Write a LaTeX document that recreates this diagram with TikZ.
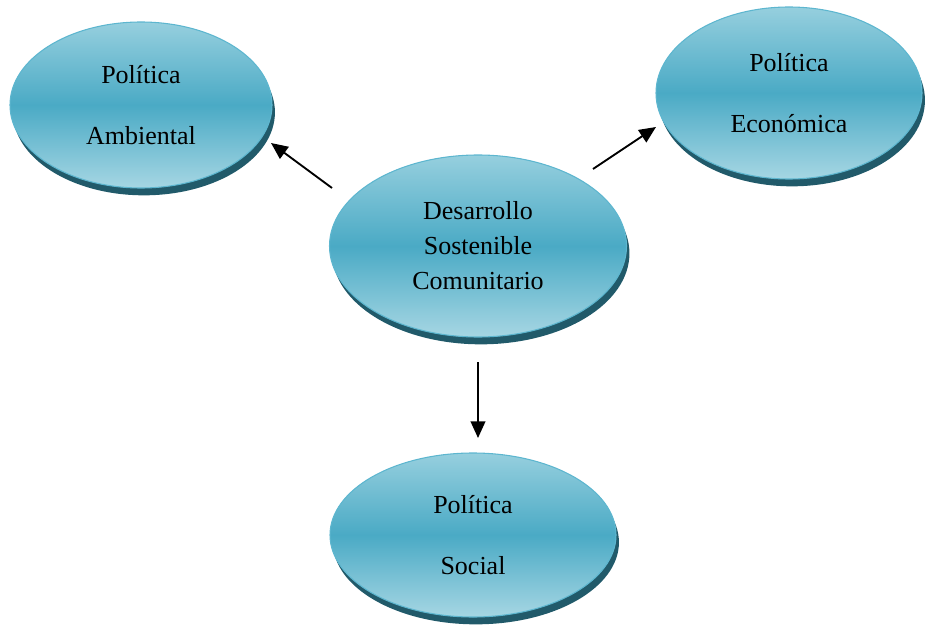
\documentclass[tikz,border=0pt]{standalone}
\usepackage{fontspec}
\setmainfont{Liberation Serif}
\usetikzlibrary{shapes.geometric,shadows,arrows.meta}

\definecolor{bubblelight}{HTML}{96CFDE}
\definecolor{bubblemid}{HTML}{4AAAC5}
\definecolor{bubbleline}{HTML}{5DB6CF}
\definecolor{bubbleshade}{HTML}{215A6A}

\tikzset{
  bubble/.style={ellipse, draw=bubbleline, line width=0.8pt,
    top color=bubblelight, bottom color=bubblelight!85!white, middle color=bubblemid,
    drop shadow={shadow xshift=2.2pt, shadow yshift=-5.5pt, fill=bubbleshade, opacity=1},
    align=center, inner sep=0pt,
    font=\fontsize{19.5}{26.25}\selectfont},
  link/.style={line width=1.4pt, -{Triangle[length=12.5pt,width=11pt]}}
}

\begin{document}
\begin{tikzpicture}[x=0.75pt,y=0.75pt,yscale=-1,xscale=1]
    \useasboundingbox (0,0) rectangle (931,627);

    %Ellipses
    \node[bubble, minimum width=196.5pt, minimum height=124.5pt] (amb) at (141,105) {Política\\[19.5pt]Ambiental};
    \node[bubble, minimum width=199.5pt, minimum height=129pt] (eco) at (789,93) {Política\\[19.5pt]Económica};
    \node[bubble, minimum width=222.75pt, minimum height=136.5pt] (des) at (478,246) {Desarrollo\\Sostenible\\Comunitario};
    \node[bubble, minimum width=214.5pt, minimum height=123pt] (soc) at (473,535) {Política\\[19.5pt]Social};

    %Arrow ends
    \coordinate (ambtail) at (332,188);
    \coordinate (ambhead) at (271,143);
    \coordinate (ecotail) at (593,169);
    \coordinate (ecohead) at (656,127);
    \coordinate (soctail) at (478,362);
    \coordinate (sochead) at (478,438);

    %Arrows
    \draw[link] (ambtail) -- (ambhead);
    \draw[link] (ecotail) -- (ecohead);
    \draw[link] (soctail) -- (sochead);
\end{tikzpicture}
\end{document}
